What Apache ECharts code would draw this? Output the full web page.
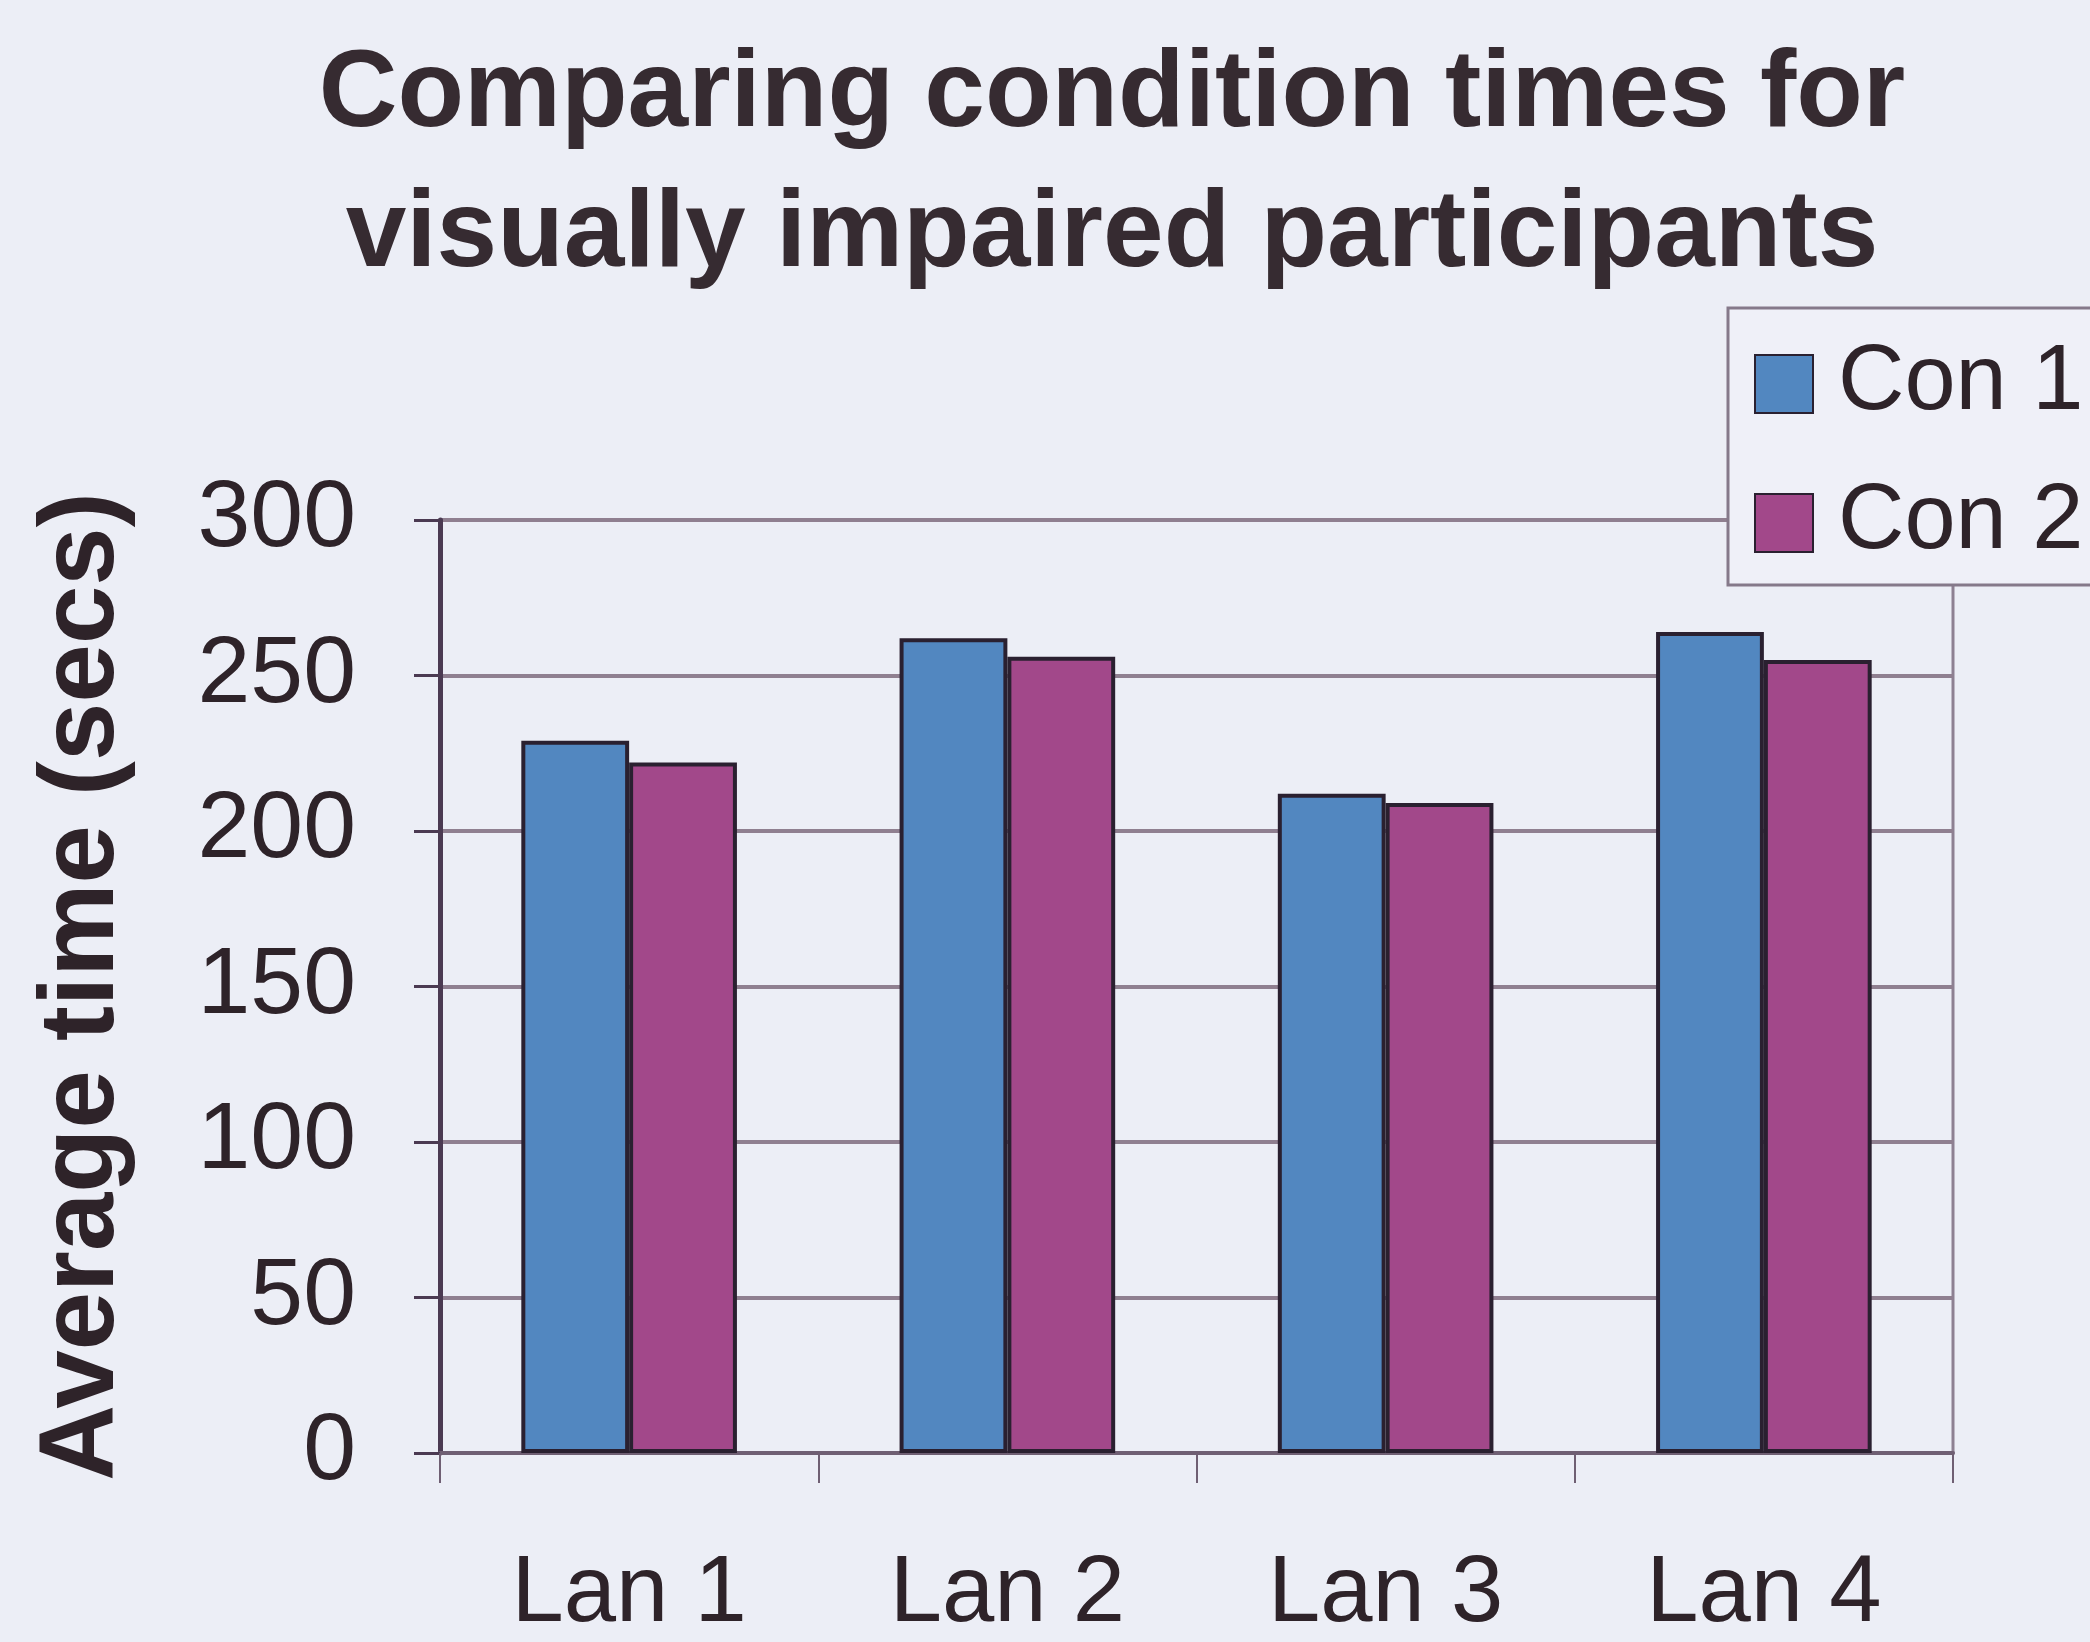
<!DOCTYPE html>
<html>
<head>
<meta charset="utf-8">
<script src="https://cdn.jsdelivr.net/npm/echarts@6/dist/echarts.min.js"></script>
<style>
    html, body { margin: 0; padding: 0; background: #eceef6; }
    #chart { width: 2090px; height: 1642px; }
</style>
</head>
<body>
<div id="chart"></div>
<script>
// values
const categories = ["Lan 1", "Lan 2", "Lan 3", "Lan 4"]
const con1 = [229, 262, 212, 264]
const con2 = [222, 256, 209, 255]

const textColor = "#2e2329"
const font = "Liberation Sans"

const mychart = echarts.init(document.getElementById("chart"))
mychart.setOption({
    backgroundColor: "#eceef6",
    title: {
        text: "Comparing condition times for\nvisually impaired participants",
        left: 1112,
        top: 26,
        padding: 0,
        textAlign: "center",
        textStyle: {
            fontFamily: font,
            fontSize: 109,
            fontWeight: "bold",
            lineHeight: 140,
            color: "#362b31"
        }
    },
    legend: {
        left: 1728,
        top: 308,
        orient: "vertical",
        padding: [30, 40, 16, 26],
        itemGap: 47,
        itemWidth: 58,
        itemHeight: 58,
        icon: "rect",
        backgroundColor: "#eff0f8",
        borderColor: "#85798a",
        borderWidth: 3,
        textStyle: {
            fontFamily: font,
            fontSize: 92,
            color: textColor,
            padding: [0, 0, 0, 20]
        },
        data: ["Con 1", "Con 2"]
    },
    grid: {
        left: 440,
        right: 137,
        top: 520,
        bottom: 189,
        show: true,
        borderColor: "#8d8092",
        borderWidth: 3
    },
    xAxis: {
        type: "category",
        data: categories,
        axisLine: { lineStyle: { color: "#6f5f73", width: 4 } },
        axisTick: { show: true, length: 30, lineStyle: { color: "#6f5f73", width: 2 } },
        axisLabel: {
            margin: 95,
            fontFamily: font,
            fontSize: 94,
            color: textColor
        }
    },
    yAxis: {
        type: "value",
        min: 0,
        max: 300,
        interval: 50,
        name: "Average time (secs)",
        nameLocation: "middle",
        nameGap: 303,
        nameTextStyle: {
            fontFamily: font,
            fontSize: 105,
            fontWeight: "bold",
            color: textColor
        },
        axisLine: { show: true, lineStyle: { color: "#4b3a52", width: 5 } },
        axisTick: { show: true, length: 26, lineStyle: { color: "#4b3a52", width: 3 } },
        axisLabel: {
            margin: 84,
            fontFamily: font,
            fontSize: 95,
            color: textColor
        },
        splitLine: { lineStyle: { color: "#8f7f90", width: 4 } }
    },
    series: [
        {
            name: "Con 1",
            type: "bar",
            data: con1,
            barGap: "0%",
            barCategoryGap: "43%",
            itemStyle: { color: "#5287c0", borderColor: "#2a2030", borderWidth: 4 }
        },
        {
            name: "Con 2",
            type: "bar",
            data: con2,
            itemStyle: { color: "#a2488a", borderColor: "#2a2030", borderWidth: 4 }
        }
    ]
})
</script>
</body>
</html>
